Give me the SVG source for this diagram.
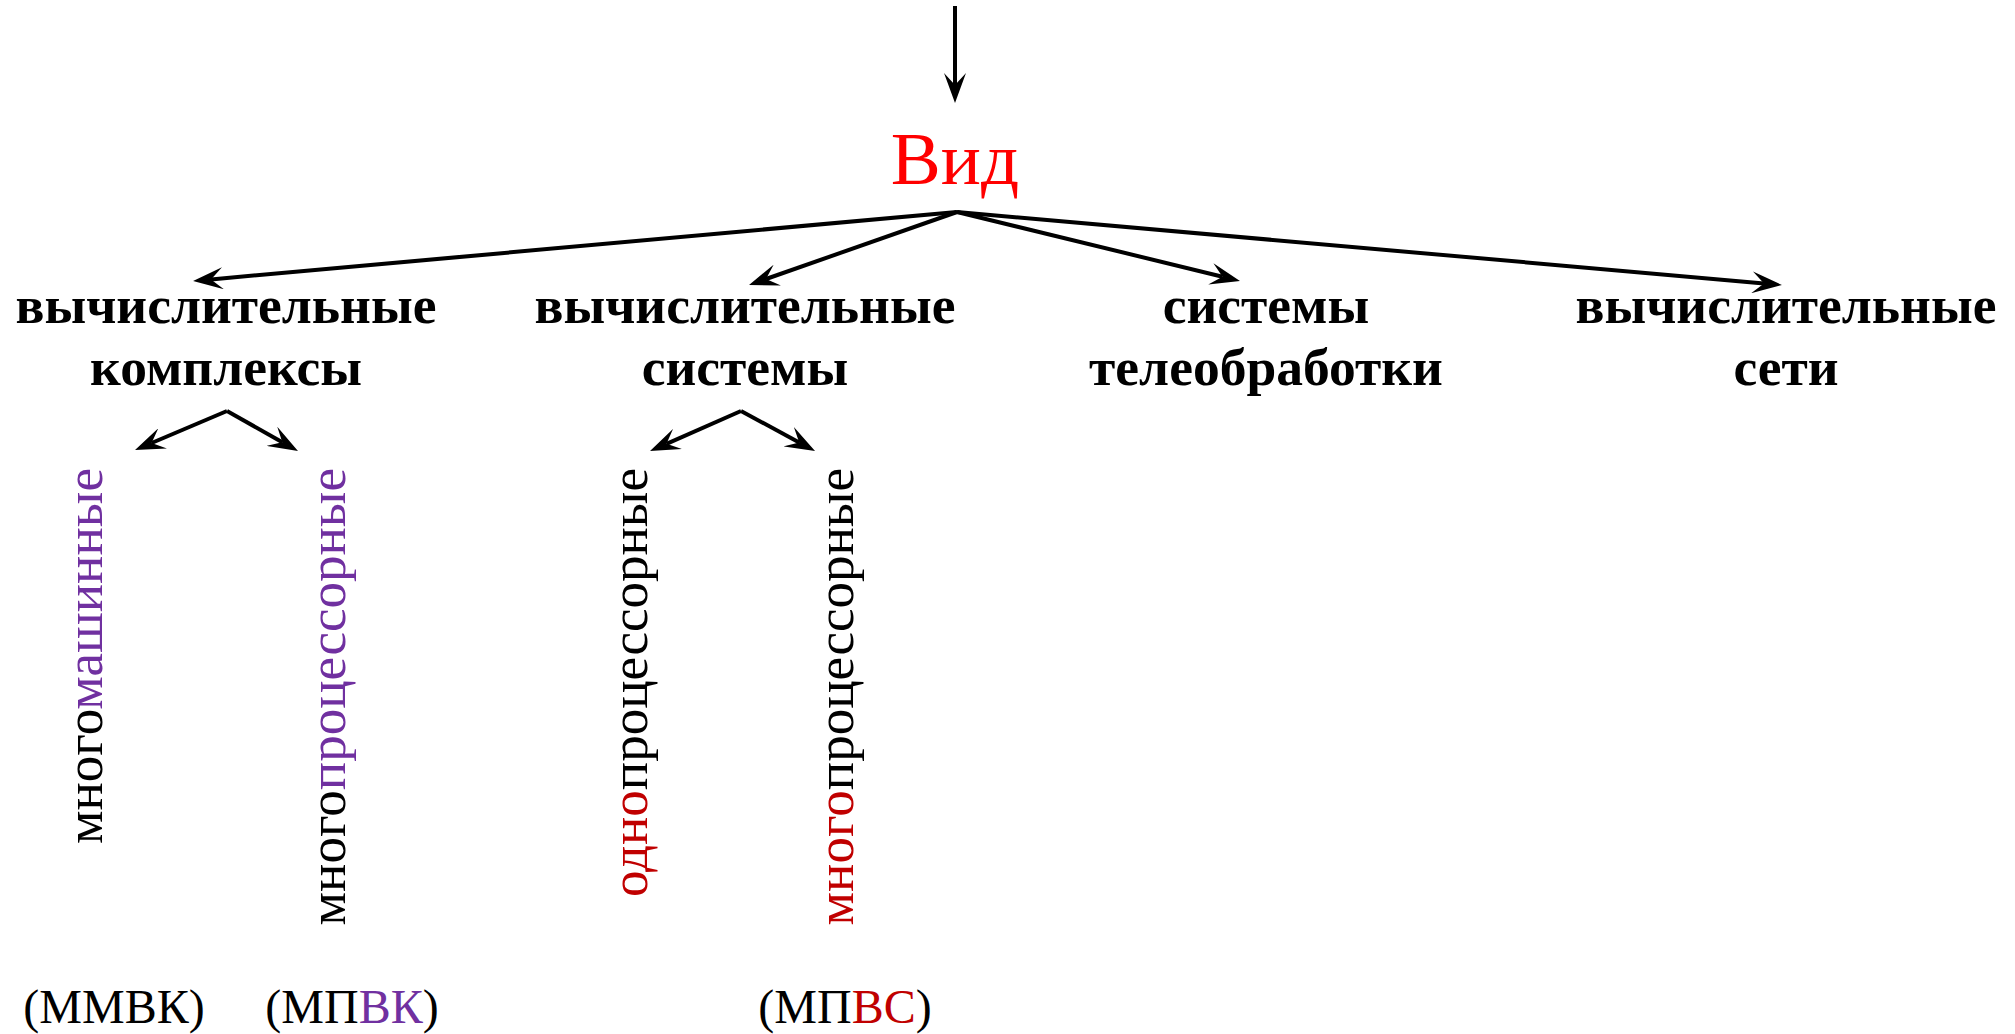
<svg xmlns="http://www.w3.org/2000/svg" width="2015" height="1034" viewBox="0 0 2015 1034">
  <style>
    text { font-family: "Liberation Serif", "DejaVu Serif", "Times New Roman", serif; }
    .head { font-size: 75px; fill: #FF0000; text-anchor: middle; }
    .cat { font-size: 53.5px; font-weight: bold; fill: #000; text-anchor: middle; }
    .sub { font-size: 53px; fill: #000; text-anchor: end; }
    .abbr { font-size: 48px; fill: #000; text-anchor: middle; }
    .purple { fill: #7030A0; }
    .dred { fill: #C00000; }
    .link { stroke: #000; stroke-width: 4; fill: none; marker-end: url(#arrow); }
  </style>
  <defs>
    <!-- barbed arrowhead; reference point sits at the notch so the shaft ends inside the head -->
    <marker id="arrow" viewBox="0 0 30 22" refX="12" refY="11" markerWidth="30" markerHeight="22" markerUnits="userSpaceOnUse" orient="auto">
      <path d="M0,0 L30,11 L0,22 L12,11 Z" fill="#000"/>
    </marker>
  </defs>

  <g id="connectors">
    <line class="link" x1="955" y1="6" x2="955" y2="85"/>
    <line class="link" x1="957" y1="212" x2="211" y2="279.4"/>
    <line class="link" x1="957" y1="212" x2="766" y2="279"/>
    <line class="link" x1="957" y1="212" x2="1222.5" y2="276.7"/>
    <line class="link" x1="957" y1="212" x2="1764" y2="283.4"/>
    <line class="link" x1="227" y1="411" x2="151.6" y2="443"/>
    <line class="link" x1="227" y1="411" x2="282.3" y2="442.2"/>
    <line class="link" x1="741" y1="411" x2="666.5" y2="443.8"/>
    <line class="link" x1="741" y1="411" x2="799.2" y2="442.4"/>
  </g>

  <g id="node-vid">
    <text class="head" x="955" y="184">Вид</text>
  </g>

  <g id="node-complexes">
    <text class="cat" x="226" y="323">вычислительные</text>
    <text class="cat" x="226" y="385">комплексы</text>
  </g>
  <g id="node-systems">
    <text class="cat" x="745" y="323">вычислительные</text>
    <text class="cat" x="745" y="385">системы</text>
  </g>
  <g id="node-teleprocessing">
    <text class="cat" x="1266" y="323">системы</text>
    <text class="cat" x="1266" y="385">телеобработки</text>
  </g>
  <g id="node-networks">
    <text class="cat" x="1786" y="323">вычислительные</text>
    <text class="cat" x="1786" y="385">сети</text>
  </g>

  <g id="node-multimachine">
    <text class="sub" transform="translate(102,468) rotate(-90)">много<tspan class="purple">машинные</tspan></text>
    <text class="abbr" x="114" y="1023">(ММВК)</text>
  </g>
  <g id="node-multiprocessor-complex">
    <text class="sub" transform="translate(345,468) rotate(-90)">много<tspan class="purple">процессорные</tspan></text>
    <text class="abbr" x="352" y="1023">(МП<tspan class="purple">ВК</tspan>)</text>
  </g>
  <g id="node-uniprocessor">
    <text class="sub" transform="translate(647,468) rotate(-90)"><tspan class="dred">одно</tspan>процессорные</text>
  </g>
  <g id="node-multiprocessor-system">
    <text class="sub" transform="translate(853,468) rotate(-90)"><tspan class="dred">много</tspan>процессорные</text>
    <text class="abbr" x="845" y="1023">(МП<tspan class="dred">ВС</tspan>)</text>
  </g>
</svg>
